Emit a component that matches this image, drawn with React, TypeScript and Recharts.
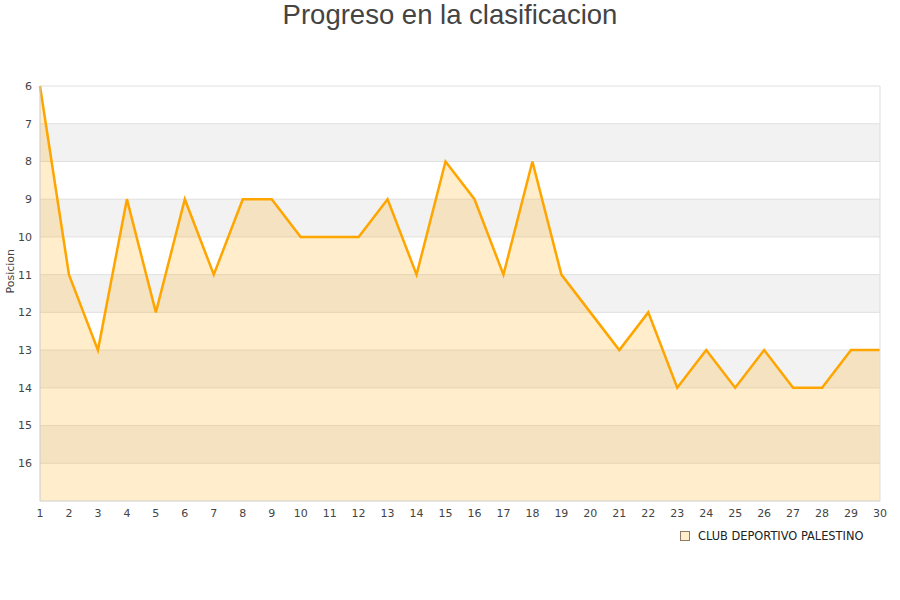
import { ComposedChart, Area, XAxis, YAxis, CartesianGrid, ReferenceLine, Legend } from 'recharts';

const jornadas = [1, 2, 3, 4, 5, 6, 7, 8, 9, 10, 11, 12, 13, 14, 15, 16, 17, 18, 19, 20, 21, 22, 23, 24, 25, 26, 27, 28, 29, 30];
const posiciones = [6, 11, 13, 9, 12, 9, 11, 9, 9, 10, 10, 10, 9, 11, 8, 9, 11, 8, 11, 12, 13, 12, 14, 13, 14, 13, 14, 14, 13, 13];
const yTicks = [6, 7, 8, 9, 10, 11, 12, 13, 14, 15, 16];
const equipo = 'CLUB DEPORTIVO PALESTINO';

const data = jornadas.map((j, i) => ({ jornada: j, posicion: posiciones[i] }));

const font = 'DejaVu Sans, sans-serif';

const LegendBox = () => (
  <div style={{ display: 'flex', alignItems: 'center', fontFamily: font, fontSize: 11.4, color: '#222' }}>
    <span style={{ width: 8, height: 8, background: '#ffedcc', border: '1px solid #8a7a66', marginRight: 8 }} />
    {equipo}
  </div>
);

export default function App() {
  return (
    <div style={{ position: 'absolute', left: 0, top: 0, width: 900, height: 600, background: '#fff' }}>
      <div style={{ position: 'absolute', top: -1, left: 0, width: 900, textAlign: 'center', fontFamily: 'Liberation Sans, Arial, sans-serif', fontSize: 27.5, color: '#444', lineHeight: '32px' }}>
        Progreso en la clasificacion
      </div>
      <ComposedChart width={900} height={600} data={data} margin={{ top: 86, right: 20, left: 0, bottom: 70 }}>
        <CartesianGrid vertical={false} stroke="#e0e0e0" horizontalFill={['#ffffff', '#f2f2f2']} fillOpacity={1} />
        <XAxis
          dataKey="jornada"
          type="number"
          domain={[1, 30]}
          ticks={jornadas}
          interval={0}
          tickLine={false}
          axisLine={{ stroke: '#dddddd' }}
          tick={{ fontSize: 11, fill: '#444', fontFamily: font }}
          height={15}
        />
        <YAxis
          type="number"
          reversed
          domain={[6, 17]}
          ticks={yTicks}
          interval={0}
          width={40}
          tickLine={false}
          axisLine={{ stroke: '#cccccc' }}
          tick={{ fontSize: 11, fill: '#444', fontFamily: font }}
          label={{ value: 'Posicion', angle: -90, position: 'insideLeft', offset: 10, fontSize: 11, fill: '#444', fontFamily: font }}
        />
        <ReferenceLine x={30} stroke="#dddddd" />
        <Area
          type="linear"
          dataKey="posicion"
          name={equipo}
          baseValue={17}
          stroke="#ffa500"
          strokeWidth={2.5}
          fill="#ffa500"
          fillOpacity={0.2}
          dot={false}
          activeDot={false}
          isAnimationActive={false}
        />
        <Legend content={<LegendBox />} wrapperStyle={{ position: 'absolute', left: 680, top: 529, width: 220 }} />
      </ComposedChart>
    </div>
  );
}
